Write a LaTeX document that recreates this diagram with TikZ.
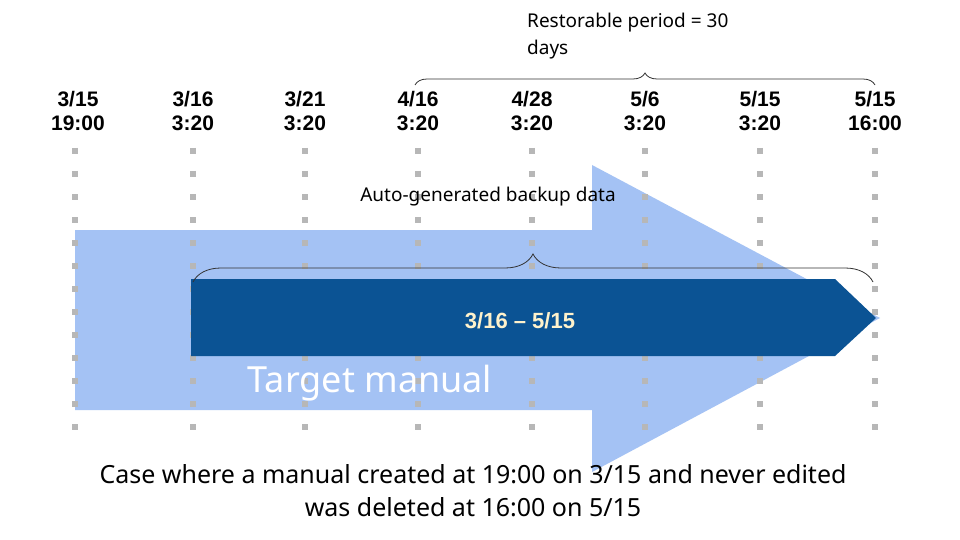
\documentclass[tikz,border=0pt]{standalone}
\usepackage{fontspec}
\setmainfont{Noto Sans}
\newfontfamily\lab{Liberation Sans}
\usetikzlibrary{decorations.pathreplacing}
\definecolor{lightb}{HTML}{A4C2F4}
\definecolor{darkb}{HTML}{0B5394}
\definecolor{cream}{HTML}{FFF2CC}
\definecolor{dotg}{HTML}{B7B7B7}
\begin{document}
\begin{tikzpicture}[x=1pt,y=-1pt,
  datelab/.style={font=\lab\bfseries\fontsize{21}{24}\selectfont,align=center},
  dots/.style={dotg,line width=6pt,dash pattern=on 6pt off 17pt},
  brc/.style={decorate,decoration={brace,amplitude=12pt},line width=0.8pt,black!80}]
\useasboundingbox[fill=white] (0,0) rectangle (960,540);
\fill[lightb] (75,230) -- (592,230) -- (592,165) -- (880,318) -- (592,472) -- (592,410) -- (75,410) -- cycle;
\foreach \x/\n in {75/a,193/b,305/c,418/d,532/e,645/f,760/g,875/h}{
  \coordinate (t\n) at (\x,148); \coordinate (b\n) at (\x,446);
  \draw[dots] (t\n) -- (b\n);}
\fill[darkb] (191,279) -- (835,279) -- (876,318) -- (835,356) -- (191,356) -- cycle;
\node[font=\lab\bfseries\fontsize{22}{24}\selectfont,text=cream] (rng) at (520,321) {3/16 – 5/15};
\node[font=\fontsize{36}{40}\selectfont,text=white] (tm) at (370,383) {Target manual};
\foreach \x/\d/\t in {78/3\slash 15/19:00,193/3\slash 16/3:20,305/3\slash 21/3:20,418/4\slash 16/3:20,532/4\slash 28/3:20,645/5\slash 6/3:20,760/5\slash 15/3:20,875/5\slash 15/16:00}
  \node[datelab] at (\x,111) {\d\\\t};
\coordinate (b1) at (415,85); \coordinate (b2) at (875,85);
\draw[brc] (b1) -- (b2);
\node[anchor=north west,align=left,font=\fontsize{19}{27}\selectfont,inner sep=0] (rp) at (527,13) {Restorable period = 30\\days};
\coordinate (c1) at (193,282); \coordinate (c2) at (873,282);
\draw[brc,decoration={amplitude=28pt}] (c1) -- (c2);
\node[font=\fontsize{19}{22}\selectfont] (ag) at (488,197) {Auto-generated backup data};
\node[align=center,font=\fontsize{25}{33}\selectfont] (cap) at (473,491) {Case where a manual created at 19:00 on 3/15 and never edited\\was deleted at 16:00 on 5/15};
\end{tikzpicture}
\end{document}
